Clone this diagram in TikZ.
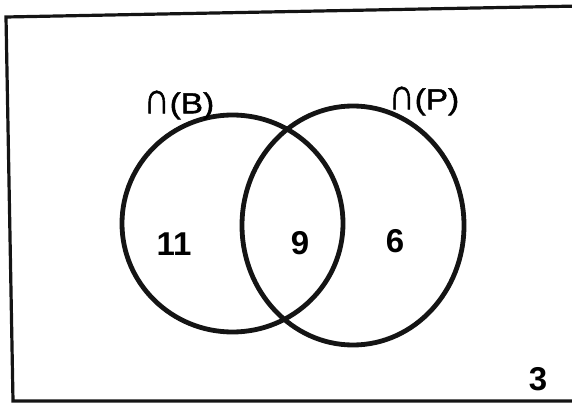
\documentclass[tikz,border=0pt]{standalone}
\usepackage{fontspec}
\setmainfont{Liberation Sans}
\newfontfamily\labfont{Liberation Sans}[FakeBold=1.5]
\newcommand{\tallcap}{\scalebox{1.08}[1.55]{∩}}
\begin{document}
\begin{tikzpicture}[x=1pt,y=-1pt,
  ring/.style={draw=black!92,line width=4.8pt},
  framel/.style={draw=black!92,line width=3.2pt},
  num/.style={font=\fontsize{33}{33}\selectfont\bfseries,inner sep=0pt,anchor=center},
  setlab/.style={font=\labfont\fontsize{29}{29}\selectfont,inner sep=0pt,anchor=center,xscale=1.15}]
\useasboundingbox (0,0) rectangle (572,403);
\coordinate (tl) at (6,17);
\coordinate (tr) at (580,6);
\coordinate (bl) at (13,401);
\coordinate (br) at (580,401);
\draw[framel] (tr) -- (tl) -- (bl) -- (br);
\draw[ring] (232.5,223.5) ellipse [x radius=110.5, y radius=108.5];
\draw[ring] (353,225.5) ellipse [x radius=111, y radius=119.5];
\node[setlab] (lb) at (179,105) {\tallcap(B)};
\node[setlab] (lp) at (424,101) {\tallcap(P)};
\node[num] (n11) at (174,244) {11};
\node[num] (n9) at (300,243) {9};
\node[num] (n6) at (395,241) {6};
\node[num] (n3) at (538,379) {3};
\end{tikzpicture}
\end{document}
